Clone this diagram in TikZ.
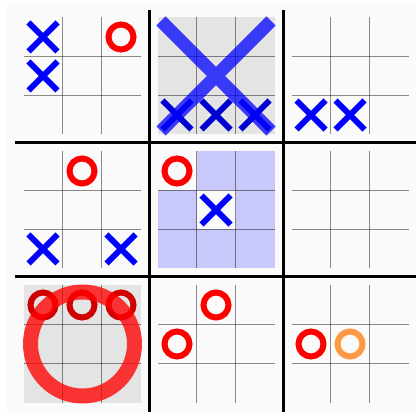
\documentclass[tikz,border=0pt]{standalone}
\usetikzlibrary{positioning}

\definecolor{bgpaper}{HTML}{FAFAFA}
\definecolor{wonfill}{HTML}{E4E4E4}
\definecolor{activefill}{HTML}{C8C8FA}
\definecolor{lastmove}{HTML}{FF9944}

\begin{document}
\begin{tikzpicture}[
  x=1pt, y=-1pt,
  % Estilos de lineas del tablero
  bigline/.style={line width=3pt, black},
  gridline/.style={line width=1pt, black, opacity=0.45},
  % Estilos de fichas
  xmark/.pic={\draw[line width=6pt, #1] (-14.5,-14.5) -- (14.5,14.5) (-14.5,14.5) -- (14.5,-14.5);},
  omark/.pic={\draw[line width=6pt, #1] (0,0) circle (12.5);},
  bigx/.style={line width=13pt, blue, opacity=0.75},
  bigo/.style={line width=15pt, red, opacity=0.78}
]

  \useasboundingbox (0,0) rectangle (416,412);
  \fill[bgpaper] (7,3) rectangle (416,412);

  % ==========================================
  % FILLS OF WON AND ACTIVE SUB-BOARDS
  % ==========================================
  \fill[wonfill] (157.5,17.5) rectangle (274.5,134.5);
  \fill[wonfill] (23.5,285.5) rectangle (140.5,402.5);

  % --- active sub-board (centre), occupied cells left blank ---
  \fill[activefill] (157.5,151.5) rectangle (274.5,268.5);
  \fill[bgpaper] (157.5,151.5) rectangle (196.5,190.5);
  \fill[bgpaper] (196.5,190.5) rectangle (235.5,229.5);

  % ==========================================
  % THIN GRIDS OF THE 9 SUB-BOARDS
  % ==========================================
  \foreach \cx in {82,216,350}
    \foreach \cy in {76,210,344} {
      \draw[gridline] (\cx-19.5,\cy-58.5) -- (\cx-19.5,\cy+58.5);
      \draw[gridline] (\cx+19.5,\cy-58.5) -- (\cx+19.5,\cy+58.5);
      \draw[gridline] (\cx-58.5,\cy-19.5) -- (\cx+58.5,\cy-19.5);
      \draw[gridline] (\cx-58.5,\cy+19.5) -- (\cx+58.5,\cy+19.5);
    }

  % ==========================================
  % SMALL MARKS (sub-board centre / column / row)
  % ==========================================
  \foreach \cx/\cy/\c/\r in {82/76/0/0, 82/76/0/1, 350/76/0/2, 350/76/1/2,
                             82/210/0/2, 82/210/2/2, 216/210/1/1}
    \pic at ({\cx+39*(\c-1)},{\cy+39*(\r-1)}) {xmark=blue};

  \foreach \cx/\cy/\c/\r in {82/76/2/0, 82/210/1/0, 216/210/0/0,
                             216/344/1/0, 216/344/0/1, 350/344/0/1}
    \pic at ({\cx+39*(\c-1)},{\cy+39*(\r-1)}) {omark=red};

  \pic at (350,344) {omark=lastmove};

  % --- marks inside the won sub-boards ---
  \foreach \c in {0,1,2} {
    \pic at ({216+39*(\c-1)},115) {xmark=blue!82!black};
    \pic at ({82+39*(\c-1)},305) {omark=red!82!black};
  }

  % ==========================================
  % BIG MARKS OF WON SUB-BOARDS
  % ==========================================
  \draw[bigx] (161,21) -- (271,131) (161,131) -- (271,21);
  \draw[bigo] (82.5,344) circle (52);

  % ==========================================
  % THICK LINES OF THE MAIN BOARD
  % ==========================================
  \draw[bigline] (149.5,10) -- (149.5,412);
  \draw[bigline] (283.5,10) -- (283.5,412);
  \draw[bigline] (15,143) -- (416,143);
  \draw[bigline] (15,277) -- (416,277);

\end{tikzpicture}
\end{document}
